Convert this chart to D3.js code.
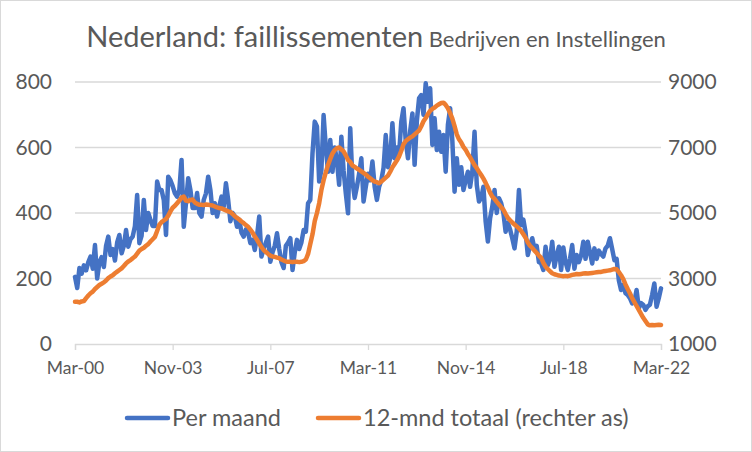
<!DOCTYPE html>
<html>
<head>
<meta charset="utf-8">
<script src="https://cdn.jsdelivr.net/npm/d3@7"></script>
<style>
  html, body { margin: 0; padding: 0; background: #fff; }
  svg { display: block; font-family: Lato, "Open Sans", sans-serif; }
</style>
</head>
<body>
<svg id="chart" width="752" height="452"></svg>
<script>
// maanden Mar-00 .. Mar-22
var months = d3.timeMonth.range(new Date(2000, 2, 1), new Date(2022, 3, 1));
var tickLabels = ["Mar-00", "Nov-03", "Jul-07", "Mar-11", "Nov-14", "Jul-18", "Mar-22"];
var leftTicks = [0, 200, 400, 600, 800];
var rightTicks = [1000, 3000, 5000, 7000, 9000];

// faillissementen per maand (linker as)
var perMaand = [
  205, 171, 232, 215, 240, 225, 250, 267, 230, 302, 200, 250,
  265, 235, 300, 328, 272, 290, 255, 310, 333, 277, 300, 348,
  297, 320, 328, 360, 455, 308, 330, 440, 348, 400, 379, 360,
  360, 496, 470, 470, 440, 333, 511, 500, 482, 460, 450, 470,
  562, 358, 430, 506, 470, 415, 415, 461, 400, 389, 440, 460,
  511, 470, 400, 430, 389, 420, 450, 420, 491, 440, 375, 400,
  390, 358, 380, 340, 328, 350, 340, 308, 318, 287, 330, 389,
  267, 290, 310, 328, 251, 280, 300, 338, 290, 250, 232, 300,
  310, 323, 226, 280, 318, 290, 310, 348, 343, 430, 440, 583,
  679, 664, 496, 531, 699, 600, 526, 623, 526, 600, 560, 486,
  633, 530, 460, 399, 659, 496, 446, 480, 520, 567, 435, 480,
  520, 500, 557, 480, 440, 480, 500, 538, 638, 540, 567, 674,
  567, 600, 580, 679, 720, 620, 567, 650, 704, 547, 680, 750,
  760, 700, 796, 740, 781, 608, 689, 592, 648, 587, 638, 526,
  669, 720, 620, 465, 567, 486, 540, 470, 500, 526, 480, 526,
  648, 486, 435, 446, 480, 374, 313, 384, 420, 470, 400, 445,
  430, 400, 343, 370, 350, 323, 292, 343, 470, 363, 380, 340,
  272, 300, 323, 290, 300, 250, 246, 226, 297, 240, 260, 312,
  236, 270, 297, 226, 295, 250, 226, 260, 302, 230, 272, 250,
  270, 312, 260, 312, 280, 246, 292, 260, 285, 275, 267, 292,
  300, 323, 290, 256, 260, 195, 165, 180, 155, 150, 140, 124,
  130, 165, 109, 125, 120, 104, 115, 120, 150, 185, 114, 140, 170
];

// 12-maands totaal (rechter as)
var totaal12 = [
  2290, 2290, 2270, 2300, 2310, 2400, 2480, 2550, 2600, 2680, 2740, 2800,
  2840, 2880, 2940, 3010, 3060, 3100, 3160, 3210, 3260, 3310, 3380, 3460,
  3520, 3560, 3620, 3670, 3760, 3850, 3900, 3940, 4000, 4050, 4130, 4200,
  4270, 4450, 4640, 4720, 4770, 4820, 4920, 5050, 5160, 5220, 5300, 5380,
  5470, 5500, 5380, 5360, 5400, 5410, 5320, 5280, 5250, 5250, 5240, 5260,
  5250, 5240, 5230, 5200, 5170, 5150, 5140, 5110, 5080, 5050, 5030, 4970,
  4900, 4850, 4800, 4740, 4690, 4630, 4580, 4490, 4400, 4280, 4180, 4070,
  3960, 3870, 3810, 3750, 3700, 3670, 3660, 3640, 3620, 3580, 3550, 3520,
  3510, 3510, 3500, 3510, 3510, 3500, 3510, 3530, 3580, 3750, 4050, 4350,
  4750, 5000, 5300, 5700, 6000, 6250, 6470, 6650, 6820, 6920, 6980, 7000,
  6940, 6880, 6760, 6620, 6560, 6450, 6410, 6360, 6320, 6270, 6220, 6180,
  6110, 6060, 6000, 5960, 5940, 5910, 5960, 6020, 6080, 6140, 6260, 6400,
  6500, 6600, 6730, 6900, 7100, 7200, 7250, 7300, 7340, 7400, 7460, 7520,
  7650, 7800, 7900, 8020, 8120, 8180, 8220, 8280, 8320, 8360, 8370, 8300,
  8200, 8050, 7880, 7650, 7400, 7250, 7150, 7020, 6930, 6800, 6700, 6580,
  6460, 6370, 6260, 6160, 6050, 5920, 5780, 5620, 5500, 5430, 5340, 5260,
  5180, 5100, 4970, 4850, 4780, 4710, 4650, 4590, 4530, 4450, 4350, 4240,
  4100, 4000, 3930, 3850, 3780, 3700, 3630, 3480, 3360, 3290, 3220, 3160,
  3130, 3110, 3090, 3080, 3070, 3080, 3070, 3090, 3110, 3120, 3140, 3130,
  3140, 3150, 3160, 3150, 3160, 3170, 3180, 3190, 3200, 3200, 3220, 3230,
  3240, 3250, 3270, 3290, 3280, 3200, 3100, 2980, 2820, 2680, 2550, 2400,
  2280, 2160, 2040, 1920, 1800, 1700, 1600, 1570, 1580, 1570, 1580, 1590, 1580
];

var svg = d3.select("#chart");
var W = 752, H = 452;
var plotLeft = 75, plotRight = 661, plotTop = 82, plotBottom = 344;
var textColor = "#595959";
var gridColor = "#d9d9d9";

// buitenrand
svg.append("rect")
    .attr("x", 0.5).attr("y", 0.5)
    .attr("width", W - 1).attr("height", H - 1)
    .attr("fill", "#fff")
    .attr("stroke", gridColor);

var x = d3.scaleLinear().domain([0, months.length - 1]).range([plotLeft, plotRight]);
var yL = d3.scaleLinear().domain([0, 800]).range([plotBottom, plotTop]);
var yR = d3.scaleLinear().domain([1000, 9000]).range([plotBottom, plotTop]);

// rasterlijnen
svg.append("g").selectAll("line")
    .data(leftTicks.slice(1))
    .enter().append("line")
    .attr("x1", plotLeft).attr("x2", plotRight)
    .attr("y1", function (d) { return yL(d); })
    .attr("y2", function (d) { return yL(d); })
    .attr("stroke", gridColor)
    .attr("stroke-width", 1.3);

// x-as
var tickIdx = tickLabels.map(function (t, i) { return i * 44; });
var xAxis = svg.append("g")
    .attr("transform", "translate(0," + plotBottom + ")")
    .call(d3.axisBottom(x)
        .tickValues(tickIdx)
        .tickSize(6)
        .tickPadding(12)
        .tickFormat(function (d, i) { return tickLabels[i]; }));
xAxis.select(".domain").attr("stroke", gridColor).attr("stroke-width", 1.3);
xAxis.selectAll(".tick line").attr("stroke", gridColor).attr("stroke-width", 1.3);
xAxis.selectAll("text")
    .attr("fill", textColor)
    .style("font-size", "17.5px")
    .style("font-family", "Lato, sans-serif");

// linker as
var yAxisL = svg.append("g")
    .attr("transform", "translate(52,0)")
    .call(d3.axisLeft(yL).tickValues(leftTicks).tickSize(0).tickPadding(0));
yAxisL.select(".domain").remove();
yAxisL.selectAll("text")
    .attr("fill", textColor)
    .style("font-size", "21px")
    .style("font-family", "Lato, sans-serif");

// rechter as
var yAxisR = svg.append("g")
    .attr("transform", "translate(668,0)")
    .call(d3.axisRight(yR).tickValues(rightTicks).tickSize(0).tickPadding(0)
        .tickFormat(d3.format("d")));
yAxisR.select(".domain").remove();
yAxisR.selectAll("text")
    .attr("fill", textColor)
    .style("font-size", "21px")
    .style("font-family", "Lato, sans-serif");

// lijnen
var lineL = d3.line()
    .x(function (d, i) { return x(i); })
    .y(function (d) { return yL(d); });
var lineR = d3.line()
    .x(function (d, i) { return x(i); })
    .y(function (d) { return yR(d); });

svg.append("path")
    .datum(perMaand)
    .attr("d", lineL)
    .attr("fill", "none")
    .attr("stroke", "#4472C4")
    .attr("stroke-width", 4.5)
    .attr("stroke-linejoin", "round")
    .attr("stroke-linecap", "round");

svg.append("path")
    .datum(totaal12)
    .attr("d", lineR)
    .attr("fill", "none")
    .attr("stroke", "#ED7D31")
    .attr("stroke-width", 4.5)
    .attr("stroke-linejoin", "round")
    .attr("stroke-linecap", "round");

// titel
var title = svg.append("text")
    .attr("x", 376).attr("y", 47)
    .attr("text-anchor", "middle")
    .attr("fill", textColor)
    .style("font-family", "Lato, sans-serif");
title.append("tspan").style("font-size", "29px").text("Nederland: faillissementen");
title.append("tspan").style("font-size", "22px").text(" Bedrijven en Instellingen");

// legenda
var legend = [
  { name: "Per maand", color: "#4472C4", x: 127 },
  { name: "12-mnd totaal (rechter as)", color: "#ED7D31", x: 318 }
];
var lg = svg.append("g").selectAll("g")
    .data(legend)
    .enter().append("g")
    .attr("transform", function (d) { return "translate(" + d.x + ",418)"; });
lg.append("line")
    .attr("x1", 0).attr("x2", 41)
    .attr("stroke", function (d) { return d.color; })
    .attr("stroke-width", 4.5)
    .attr("stroke-linecap", "round");
lg.append("text")
    .attr("x", 45).attr("y", 0)
    .attr("dy", "0.35em")
    .attr("fill", textColor)
    .style("font-size", "23.5px")
    .style("font-family", "Lato, sans-serif")
    .text(function (d) { return d.name; });
</script>
</body>
</html>
